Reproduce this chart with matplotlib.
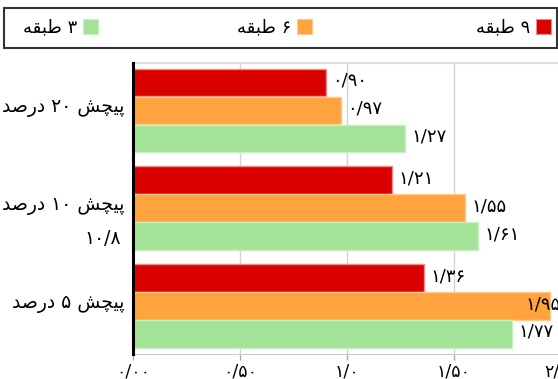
import matplotlib
matplotlib.use("Agg")
import matplotlib.pyplot as plt
from matplotlib.patches import Rectangle
from matplotlib.transforms import ScaledTranslation
import numpy as np

# ---- data -------------------------------------------------------------
categories = ["پیچش ۲۰ درصد", "پیچش ۱۰ درصد", "پیچش ۵ درصد"]
series_names = ["۹ طبقه", "۶ طبقه", "۳ طبقه"]
values_9 = [0.90, 1.21, 1.36]
values_6 = [0.97, 1.55, 1.95]
values_3 = [1.27, 1.61, 1.77]
x_ticks = [0.0, 0.5, 1.0, 1.5, 2.0]
x_tick_labels = ["۰/۰۰", "۰/۵۰", "۱/۰", "۱/۵۰", "۲/۰۰"]
note_text = "۱۰/۸"

colors = ["#d90000", "#ffa33f", "#a3e398"]
edge_colors = ["#f08a8a", "#ffc98a", "#c8f0c0"]

W, H, DPI = 558, 379, 100

# ---- minimal Persian shaping (presentation forms, visual order) ---------
FORMS = {
    'پ': ('\uFB56', '\uFB57', '\uFB58', '\uFB59'),
    'ی': ('\uFBFC', '\uFBFD', '\uFBFE', '\uFBFF'),
    'چ': ('\uFB7A', '\uFB7B', '\uFB7C', '\uFB7D'),
    'ش': ('\uFEB5', '\uFEB6', '\uFEB7', '\uFEB8'),
    'ص': ('\uFEB9', '\uFEBA', '\uFEBB', '\uFEBC'),
    'ط': ('\uFEC1', '\uFEC2', '\uFEC3', '\uFEC4'),
    'ب': ('\uFE8F', '\uFE90', '\uFE91', '\uFE92'),
    'ق': ('\uFED5', '\uFED6', '\uFED7', '\uFED8'),
    'ه': ('\uFEE9', '\uFEEA', '\uFEEB', '\uFEEC'),
    'د': ('\uFEA9', '\uFEAA', None, None),
    'ر': ('\uFEAD', '\uFEAE', None, None),
}


def shape_word(word):
    out = []
    for i, ch in enumerate(word):
        if ch not in FORMS:
            out.append(ch)
            continue
        prev = word[i - 1] if i > 0 else None
        nxt = word[i + 1] if i + 1 < len(word) else None
        joins_prev = prev in FORMS and FORMS[prev][2] is not None
        joins_next = FORMS[ch][2] is not None and nxt in FORMS
        iso, fin, ini, med = FORMS[ch]
        if joins_prev and joins_next:
            out.append(med)
        elif joins_prev:
            out.append(fin)
        elif joins_next:
            out.append(ini)
        else:
            out.append(iso)
    return "".join(reversed(out))


def rtl(text):
    tokens = text.split(" ")
    shaped = [shape_word(t) if any(c in FORMS for c in t) else t for t in tokens]
    return " ".join(reversed(shaped))


PERSIAN_DIGITS = str.maketrans("0123456789.", "۰۱۲۳۴۵۶۷۸۹/")


def fa_number(v):
    return f"{v:.2f}".translate(PERSIAN_DIGITS)


def px(x, y):
    """figure pixel position (from top-left) -> figure fraction"""
    return x / W, 1 - y / H


plt.rcParams["font.family"] = ["DejaVu Sans"]

fig = plt.figure(figsize=(W / DPI, H / DPI), dpi=DPI)
left, top, right, bottom = 133, 63, 561, 354
ax = fig.add_axes([left / W, 1 - bottom / H, (right - left) / W, (bottom - top) / H])

y = np.arange(len(categories))
bar_h = 0.283
step = 0.2857
all_series = [values_9, values_6, values_3]
for k, vals in enumerate(all_series):
    offs = (k - 1) * step
    ax.barh(y + offs, vals, height=bar_h, color=colors[k],
            edgecolor=edge_colors[k], linewidth=1, zorder=3)
    for yy, v in zip(y + offs, vals):
        if v > 1.85:
            ax.annotate(fa_number(v), xy=(2.0, yy), xytext=(0, 1),
                        textcoords="offset points", ha="right", va="center",
                        fontsize=13, color="black", zorder=5)
        else:
            ax.annotate(fa_number(v), xy=(v, yy), xytext=(5, 1.5),
                        textcoords="offset points", ha="left", va="center",
                        fontsize=13, color="black", zorder=5)

ax.set_xlim(0, 2.0)
ax.set_ylim(2.49, -0.485)

ax.set_xticks(x_ticks)
ax.set_xticklabels(x_tick_labels, fontsize=12.5)
ax.tick_params(axis="x", direction="out", length=4, width=1, color="#aaaaaa", pad=2)
ax.set_yticks(y)
ax.set_yticklabels([rtl(c) for c in categories], fontsize=13.5)
ax.tick_params(axis="y", length=0, pad=6)
lift = ScaledTranslation(0, 5 / DPI, fig.dpi_scale_trans)
for lab in ax.get_yticklabels():
    lab.set_transform(lab.get_transform() + lift)

ax.grid(axis="x", color="#d4d4d4", linewidth=1, zorder=0)
ax.set_axisbelow(True)

ax.spines["left"].set_color("black")
ax.spines["left"].set_linewidth(2.2)
ax.spines["left"].set_zorder(6)
ax.spines["bottom"].set_color("#cccccc")
ax.spines["top"].set_color("#dddddd")
ax.spines["top"].set_linewidth(1.5)
ax.spines["right"].set_visible(False)

# stray note under the middle category label
fig.text(*px(121, 239), note_text, ha="right", va="center", fontsize=13.5)

# legend box
x0, y0 = px(4, 48)
x1, y1 = px(557, 8)
fig.patches.append(Rectangle((x0, y0), x1 - x0, y1 - y0, transform=fig.transFigure,
                             facecolor="white", edgecolor="#333333", linewidth=1.5))
square_right = [551, 312, 98]
for k, name in enumerate(series_names):
    sx, sy = px(square_right[k] - 15, 34)
    sw, sh = 15 / W, 15 / H
    fig.patches.append(Rectangle((sx, sy), sw, sh, transform=fig.transFigure,
                                 facecolor=colors[k], edgecolor=edge_colors[k],
                                 linewidth=0.8))
    tx, ty = px(square_right[k] - 21, 27)
    fig.text(tx, ty, rtl(name), ha="right", va="center", fontsize=13)

fig.savefig("out.png", dpi=DPI)
